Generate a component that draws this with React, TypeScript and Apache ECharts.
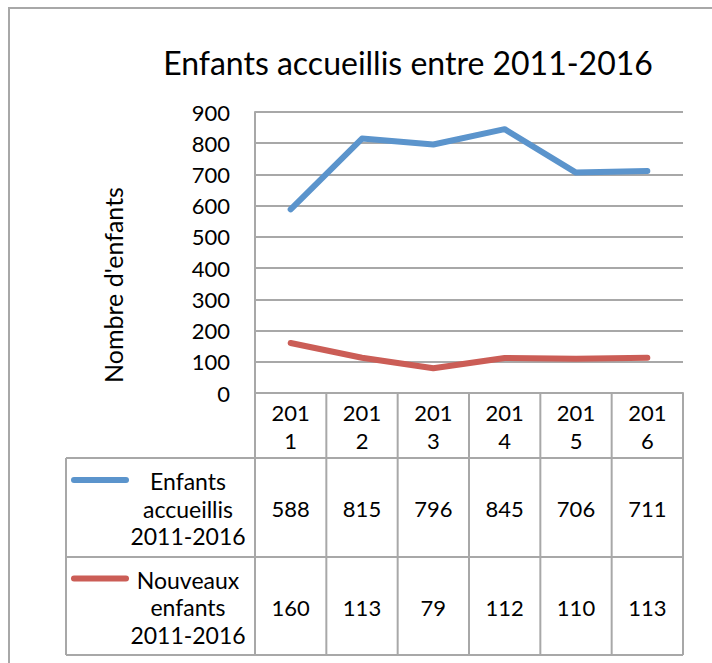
import React, { useEffect, useRef } from "react";
import * as echarts from "echarts";

const titleText = "Enfants accueillis entre 2011-2016";
const yAxisTitle = "Nombre d'enfants";
const categories = ["2011", "2012", "2013", "2014", "2015", "2016"];
const headerLabels = ["201\n1", "201\n2", "201\n3", "201\n4", "201\n5", "201\n6"];
const seriesLabels = ["Enfants\naccueillis\n2011-2016", "Nouveaux\nenfants\n2011-2016"];
const enfantsAccueillis = [588, 815, 796, 845, 706, 711];
const nouveauxEnfants = [160, 113, 79, 112, 110, 113];
const yMin = 0;
const yMax = 900;
const yInterval = 100;

const FONT = "Lato, 'Noto Sans', sans-serif";
const BLUE = "#5B94CC";
const RED = "#CB5D56";
const GRID = "#A8A8A8";

export default function App() {
  const ref = useRef<HTMLDivElement>(null);
  useEffect(() => {
    if (!ref.current) return;
    const chart = echarts.init(ref.current, null, { renderer: "svg" });
    const seriesData = [enfantsAccueillis, nouveauxEnfants];
    const colors = [BLUE, RED];
    chart.setOption({
      animation: false,
      title: {
        text: titleText,
        left: 403,
        top: 57,
        textAlign: "center",
        textVerticalAlign: "middle",
        textStyle: { fontFamily: FONT, fontSize: 32, fontWeight: "normal", color: "#000" },
      },
      grid: { left: 255, right: 29, top: 112, bottom: 270, containLabel: false },
      xAxis: {
        type: "category",
        data: categories,
        boundaryGap: true,
        axisLine: { show: true, lineStyle: { color: GRID, width: 2 } },
        axisTick: { show: false },
        axisLabel: { show: false },
        splitLine: { show: false },
      },
      yAxis: {
        type: "value",
        min: yMin,
        max: yMax,
        interval: yInterval,
        axisLine: { show: true, lineStyle: { color: GRID, width: 2 } },
        axisTick: { show: false },
        axisLabel: { margin: 25, fontFamily: FONT, fontSize: 22, color: "#000" },
        splitLine: { show: true, lineStyle: { color: GRID, width: 2 } },
      },
      series: seriesData.map((d, i) => ({
        type: "line",
        name: seriesLabels[i].replace(/\n/g, " "),
        data: d,
        showSymbol: false,
        symbol: "none",
        lineStyle: { color: colors[i], width: 6, cap: "round", join: "round" },
        itemStyle: { color: colors[i] },
        z: 5,
      })),
    });

    const c0 = chart.convertToPixel({ xAxisIndex: 0 }, 0) as number;
    const c1 = chart.convertToPixel({ xAxisIndex: 0 }, 1) as number;
    const half = (c1 - c0) / 2;
    const yTop = chart.convertToPixel({ yAxisIndex: 0 }, 0) as number;
    const headerBottom = yTop + 65;
    const rowH = [99, 98];
    const rowTops = [headerBottom, headerBottom + rowH[0]];
    const tableBottom = rowTops[1] + rowH[1];
    const legendLeft = 66;
    const colLeft = c0 - half;
    const colRight = c0 + half * (2 * categories.length - 1);
    const lineH = 27.5;
    const lineStyle = { stroke: GRID, lineWidth: 2 };
    const textEl = (text: string, x: number, y: number, size = 22) => ({
      type: "text",
      x,
      y,
      style: {
        text,
        fill: "#000",
        fontFamily: FONT,
        fontSize: size,
        lineHeight: lineH,
        textAlign: "center",
        textVerticalAlign: "middle",
      },
    });

    const g: any[] = [];
    // outer border
    g.push({ type: "rect", shape: { x: 9, y: 8, width: 760, height: 720 }, style: { fill: "none", stroke: GRID, lineWidth: 2 }, silent: true });
    // y-axis title
    g.push({
      type: "text",
      x: 113,
      y: 285,
      rotation: Math.PI / 2,
      style: { text: yAxisTitle, fill: "#000", fontFamily: FONT, fontSize: 25, textAlign: "center", textVerticalAlign: "middle" },
    });
    // vertical column lines
    for (let i = 0; i <= categories.length; i++) {
      const x = colLeft + i * 2 * half;
      g.push({ type: "line", shape: { x1: x, y1: yTop, x2: x, y2: tableBottom }, style: lineStyle });
    }
    g.push({ type: "line", shape: { x1: legendLeft, y1: headerBottom, x2: legendLeft, y2: tableBottom }, style: lineStyle });
    g.push({ type: "line", shape: { x1: colRight, y1: yTop, x2: colRight, y2: tableBottom }, style: lineStyle });
    [headerBottom, rowTops[1], tableBottom].forEach((y) => {
      g.push({ type: "line", shape: { x1: legendLeft, y1: y, x2: colRight, y2: y }, style: lineStyle });
    });
    // header labels
    categories.forEach((_, i) => {
      const cx = chart.convertToPixel({ xAxisIndex: 0 }, i) as number;
      g.push(textEl(headerLabels[i], cx, (yTop + headerBottom) / 2 + 1));
    });
    // rows
    seriesData.forEach((d, r) => {
      const mid = rowTops[r] + rowH[r] / 2;
      g.push({
        type: "line",
        shape: { x1: 74, y1: mid - lineH, x2: 126, y2: mid - lineH },
        style: { stroke: colors[r], lineWidth: 6, lineCap: "round" },
      });
      g.push(textEl(seriesLabels[r], 188, mid + 1, 23));
      d.forEach((v, i) => {
        const cx = chart.convertToPixel({ xAxisIndex: 0 }, i) as number;
        g.push(textEl(String(v), cx, mid + 1));
      });
    });
    chart.setOption({ graphic: { elements: g } });

    return () => chart.dispose();
  }, []);
  return (
    <div
      ref={ref}
      style={{ position: "fixed", left: 0, top: 0, width: 712, height: 663, background: "#fff" }}
    />
  );
}
